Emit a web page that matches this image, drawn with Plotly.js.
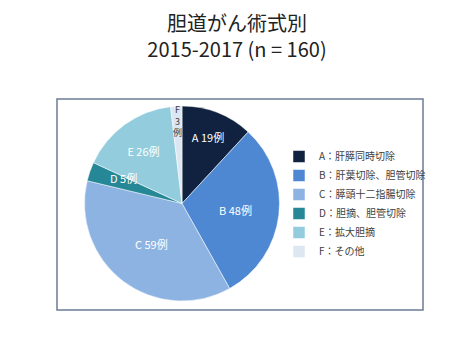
<!DOCTYPE html>
<html><head><meta charset="utf-8">
<script src="https://cdn.plot.ly/plotly-3.0.1.min.js"></script>
<style>html,body{margin:0;padding:0;background:#fff}</style>
</head><body><div id="chart" style="width:474px;height:355px"></div>
<script>
const letters = ['A','B','C','D','E','F'];
const names = ['肝膵同時切除','肝葉切除、胆管切除','膵頭十二指腸切除','胆摘、胆管切除','拡大胆摘','その他'];
const counts = [19, 48, 59, 5, 26, 3];
const colors = ['#10223f','#4f88d2','#8db3e2','#268896','#93cddd','#dde7f2'];

const W = 474, H = 355;
const px = x => x / W, py = y => 1 - y / H;
// pie placement (pixels)
const pieL = 84, pieR = 280, pieT = 106, pieB = 301;
const cx = (pieL + pieR) / 2, cy = (pieT + pieB) / 2, rad = (pieB - pieT) / 2;

const labels = letters.map((l, i) => l + '：' + names[i]);
const texts = letters.map((l, i) => l + ' ' + counts[i] + '例');
const textpos = letters.map((l, i) => (l === 'D' || l === 'F') ? 'none' : 'inside');

// annotations for the two tiny slices, placed from the data's angles
const total = counts.reduce((a, b) => a + b, 0);
const annotations = [];
let cum = 0;
counts.forEach((c, i) => {
  const mid = (cum + c / 2) / total * 2 * Math.PI;
  cum += c;
  if (letters[i] === 'D' || letters[i] === 'F') {
    const f = letters[i] === 'D' ? 0.8 : 0.85;
    const x = cx + Math.sin(mid) * rad * f;
    const y = cy - Math.cos(mid) * rad * f;
    annotations.push({
      x: px(x), y: py(y), xref: 'paper', yref: 'paper', showarrow: false,
      text: letters[i] === 'D' ? texts[i] : letters[i] + '<br>' + counts[i] + '<br>例',
      font: {family: 'Noto Sans CJK JP', size: letters[i] === 'D' ? 11 : 9,
             color: letters[i] === 'D' ? '#ffffff' : '#404040'}
    });
  }
});

const trace = {
  type: 'pie',
  labels: labels,
  values: counts,
  text: texts,
  textinfo: 'text',
  textposition: textpos,
  insidetextorientation: 'horizontal',
  insidetextfont: {family: 'Noto Sans CJK JP', size: 11, color: '#ffffff'},
  marker: {colors: colors, line: {color: '#ffffff', width: 0.5}},
  sort: false,
  direction: 'clockwise',
  rotation: 0,
  hoverinfo: 'none',
  domain: {x: [px(pieL), px(pieR)], y: [py(pieB), py(pieT)]}
};

const layout = {
  width: W, height: H,
  margin: {l: 0, r: 0, t: 0, b: 0},
  paper_bgcolor: '#ffffff',
  title: {
    text: '胆道がん術式別<br>2015-2017 (n = 160)',
    font: {family: 'Noto Sans CJK JP', size: 20, color: '#222222'},
    x: 0.5, xanchor: 'center', y: 0.913, yanchor: 'top', yref: 'container'
  },
  showlegend: true,
  legend: {
    x: px(279), y: py(142), xanchor: 'left', yanchor: 'top',
    font: {family: 'Noto Sans CJK JP', size: 10, color: '#404040'},
    itemwidth: 30, tracegroupgap: 0, bgcolor: 'rgba(0,0,0,0)'
  },
  shapes: [{
    type: 'rect', xref: 'paper', yref: 'paper',
    x0: px(57), x1: px(423), y0: py(310), y1: py(99),
    line: {color: '#6b7b95', width: 1.5}
  }],
  annotations: annotations
};

Plotly.newPlot('chart', [trace], layout, {displayModeBar: false, staticPlot: true});
</script>
</body></html>
